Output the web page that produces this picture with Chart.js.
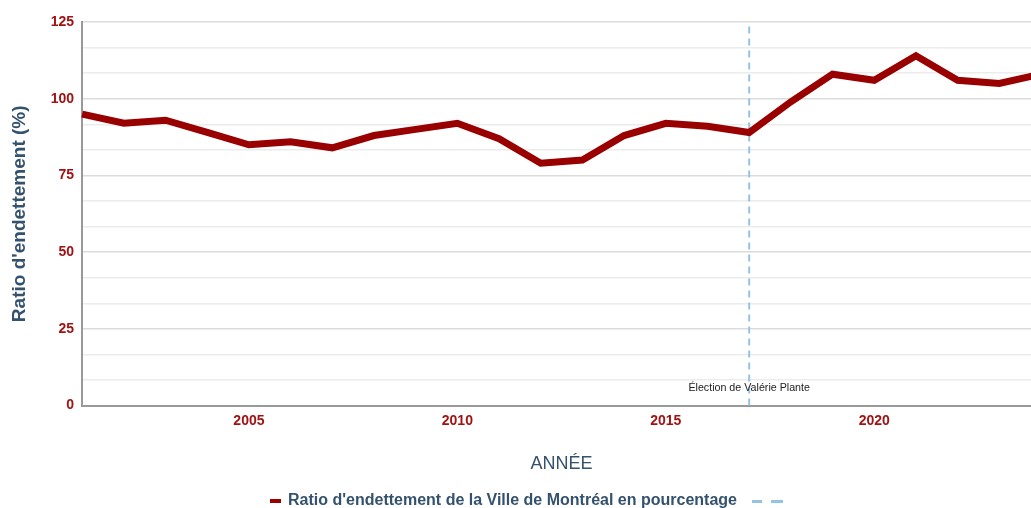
<!DOCTYPE html>
<html lang="fr">
<head>
<meta charset="utf-8">
<script src="https://cdn.jsdelivr.net/npm/chart.js@4.4.1/dist/chart.umd.min.js"></script>
<style>
  html, body { margin: 0; padding: 0; background: #fff; overflow: hidden; }
  #wrap { width: 1050px; height: 519px; }
</style>
</head>
<body>
<div id="wrap"><canvas id="grafico"></canvas></div>
<script>
// Données
const annees = [2001, 2002, 2003, 2004, 2005, 2006, 2007, 2008, 2009, 2010, 2011, 2012,
                2013, 2014, 2015, 2016, 2017, 2018, 2019, 2020, 2021, 2022, 2023, 2024];
const ratios = [95, 92, 93, 89, 85, 86, 84, 88, 90, 92, 87, 79,
                80, 88, 92, 91, 89, 99, 108, 106, 114, 106, 105, 108];
const anneeElection = 2017;
const ligneElection = [0, 124];
const texteElection = 'Élection de Valérie Plante';
const ticksX = [2005, 2010, 2015, 2020];
const ticksYLabels = [0, 25, 50, 75, 100, 125];
const ticksY = [];
for (let i = 0; i <= 15; i++) ticksY.push(i * 25 / 3);

const rouge = '#990000';
const rougeTexte = '#a11212';
const bleuTexte = '#34526e';
const bleuClair = '#94c4e2';
const police = '"Liberation Sans", Arial, sans-serif';

// Marqueurs de la légende
function marqueurRouge() {
    const c = document.createElement('canvas');
    c.width = 11; c.height = 4;
    const g = c.getContext('2d');
    g.fillStyle = rouge;
    g.fillRect(0, 0, 11, 4);
    return c;
}
function marqueurBleu() {
    const c = document.createElement('canvas');
    c.width = 70; c.height = 3;
    const g = c.getContext('2d');
    g.fillStyle = bleuClair;
    g.fillRect(37, 0, 10, 3);
    g.fillRect(56, 0, 12, 3);
    return c;
}

// Texte de l'élection
const annotationPlugin = {
    id: 'annotationElection',
    afterDatasetsDraw(chart) {
        const ctx = chart.ctx;
        const x = chart.scales.x.getPixelForValue(anneeElection);
        const y = chart.scales.y.getPixelForValue(5.8);
        ctx.save();
        ctx.font = '10.7px ' + police;
        ctx.fillStyle = '#222';
        ctx.textAlign = 'center';
        ctx.textBaseline = 'middle';
        ctx.fillText(texteElection, x, y);
        ctx.restore();
    }
};

const ctx = document.getElementById('grafico').getContext('2d');
new Chart(ctx, {
    type: 'line',
    data: {
        datasets: [{
            label: "Ratio d'endettement de la Ville de Montréal en pourcentage",
            data: annees.map((a, i) => ({ x: a, y: ratios[i] })),
            borderColor: rouge,
            backgroundColor: rouge,
            borderWidth: 7,
            pointRadius: 0,
            tension: 0,
            borderJoinStyle: 'miter',
            clip: false
        }, {
            label: '\u2003',
            data: ligneElection.map(v => ({ x: anneeElection, y: v })),
            borderColor: bleuClair,
            backgroundColor: bleuClair,
            borderWidth: 2,
            borderDash: [7, 5],
            pointRadius: 0
        }]
    },
    options: {
        responsive: true,
        maintainAspectRatio: false,
        animation: false,
        layout: { padding: { top: 22, right: 9, left: 8, bottom: 0 } },
        plugins: {
            tooltip: { enabled: false },
            legend: {
                position: 'bottom',
                labels: {
                    usePointStyle: true,
                    pointStyleWidth: 10,
                    padding: 8,
                    color: bleuTexte,
                    font: { family: police, size: 16, weight: 'bold' },
                    generateLabels(chart) {
                        const marqueurs = [marqueurRouge(), marqueurBleu()];
                        return chart.data.datasets.map((ds, i) => ({
                            text: ds.label,
                            pointStyle: marqueurs[i],
                            fillStyle: ds.borderColor,
                            strokeStyle: ds.borderColor,
                            lineWidth: 0,
                            fontColor: bleuTexte,
                            datasetIndex: i
                        }));
                    }
                }
            }
        },
        scales: {
            x: {
                type: 'linear',
                min: 2001,
                max: 2024,
                afterBuildTicks: axis => { axis.ticks = ticksX.map(v => ({ value: v })); },
                grid: { display: false, drawTicks: false },
                border: { display: true, color: '#999', width: 2 },
                ticks: {
                    color: rougeTexte,
                    padding: 7,
                    font: { family: police, size: 14, weight: 'bold' },
                    callback: v => String(v)
                },
                title: {
                    display: true,
                    text: 'ANNÉE',
                    color: bleuTexte,
                    padding: { top: 17, bottom: 10 },
                    font: { family: police, size: 18 }
                }
            },
            y: {
                min: 0,
                max: 125,
                afterBuildTicks: axis => { axis.ticks = ticksY.map(v => ({ value: v })); },
                grid: {
                    color: c => ticksYLabels.some(t => Math.abs(t - c.tick.value) < 0.01) ? '#dcdcdc' : '#ececec',
                    lineWidth: 1.5,
                    drawTicks: false
                },
                border: { display: true, color: '#999', width: 2 },
                ticks: {
                    color: rougeTexte,
                    padding: 8,
                    font: { family: police, size: 14, weight: 'bold' },
                    callback: v => ticksYLabels.some(t => Math.abs(t - v) < 0.01) ? String(Math.round(v)) : ''
                },
                title: {
                    display: true,
                    text: "Ratio d'endettement (%)",
                    color: bleuTexte,
                    padding: { top: 0, bottom: 12 },
                    font: { family: police, size: 19, weight: 'bold' }
                }
            }
        }
    },
    plugins: [annotationPlugin]
});
</script>
</body>
</html>
